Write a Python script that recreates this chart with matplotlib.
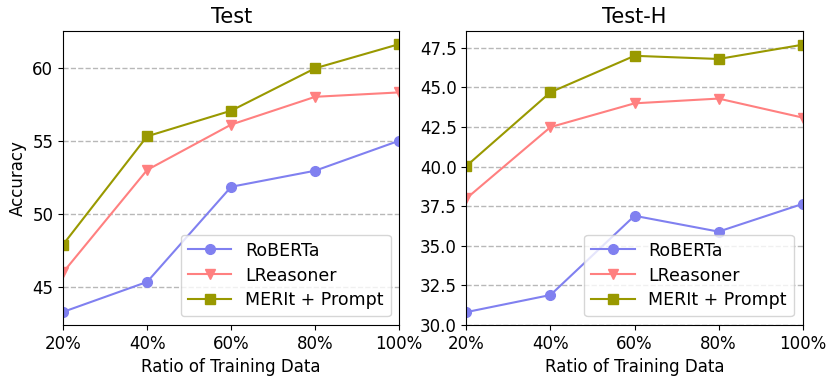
import matplotlib

matplotlib.use("Agg")

import matplotlib.pyplot as plt


ratios = ["20%", "40%", "60%", "80%", "100%"]

test_roberta = [43.3, 45.35, 51.85, 52.95, 55.0]
test_lreasoner = [46.0, 53.0, 56.1, 58.0, 58.3]
test_merit = [47.9, 55.3, 57.05, 59.95, 61.6]

testh_roberta = [30.82, 31.9, 36.9, 35.9, 37.65]
testh_lreasoner = [38.0, 42.5, 44.0, 44.3, 43.1]
testh_merit = [40.05, 44.7, 47.0, 46.8, 47.7]

COLORS = {
    "RoBERTa": "#8080f0",
    "LReasoner": "#ff8080",
    "MERIt + Prompt": "#999900",
}
MARKERS = {"RoBERTa": "o", "LReasoner": "v", "MERIt + Prompt": "s"}


def draw_panel(ax, title, series, ylim, yticks):
    x = list(range(len(ratios)))
    for name, values in series.items():
        ax.plot(x, values, color=COLORS[name], marker=MARKERS[name],
                markersize=7, linewidth=1.5, label=name)
    ax.set_xlim(0, len(ratios) - 1)
    ax.set_ylim(*ylim)
    ax.set_xticks(x)
    ax.set_xticklabels(ratios)
    ax.set_yticks(yticks)
    ax.yaxis.grid(True, linestyle="--", color="#b8b8b8", linewidth=1)
    ax.set_axisbelow(True)
    ax.set_title(title, fontsize=15)
    ax.set_xlabel("Ratio of Training Data", fontsize=12)
    ax.tick_params(labelsize=12)
    ax.legend(loc="lower right", fontsize=12.5, handlelength=2.5,
              labelspacing=0.4)


plt.rcParams["font.family"] = "DejaVu Sans"

fig, (ax1, ax2) = plt.subplots(1, 2, figsize=(8.3, 3.82), dpi=100)

draw_panel(
    ax1, "Test",
    {"RoBERTa": test_roberta, "LReasoner": test_lreasoner,
     "MERIt + Prompt": test_merit},
    (42.4, 62.5), [45, 50, 55, 60],
)
ax1.set_ylabel("Accuracy", fontsize=12)

draw_panel(
    ax2, "Test-H",
    {"RoBERTa": testh_roberta, "LReasoner": testh_lreasoner,
     "MERIt + Prompt": testh_merit},
    (30.0, 48.57), [30.0, 32.5, 35.0, 37.5, 40.0, 42.5, 45.0, 47.5],
)
ax2.set_yticklabels([f"{v:.1f}" for v in ax2.get_yticks()])

fig.subplots_adjust(left=0.076, right=0.967, top=0.919, bottom=0.149, wspace=0.2)
fig.savefig("out.png", dpi=100)
